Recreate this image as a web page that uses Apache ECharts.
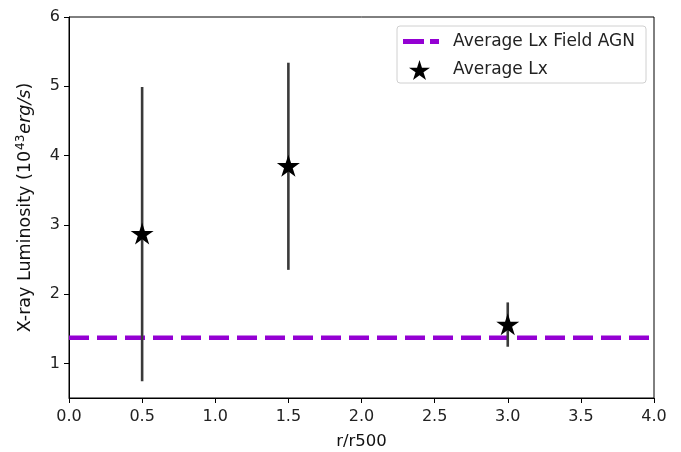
<!DOCTYPE html>
<html>
<head>
<meta charset="utf-8">
<script src="https://cdn.jsdelivr.net/npm/echarts@6/dist/echarts.min.js"></script>
<style>html,body{margin:0;padding:0;background:#fff;}#c{width:681px;height:452px;}</style>
</head>
<body>
<div id="c"></div>
<script>
// ---- data ----
const rValues = [0.5, 1.5, 3.0];
const avgLx = [2.86, 3.84, 1.55];
const errLow = [0.74, 2.35, 1.24];
const errHigh = [4.99, 5.34, 1.88];
const fieldAgnLx = 1.37;
const fieldRange = [0, 4];
const xTicks = [0, 0.5, 1, 1.5, 2, 2.5, 3, 3.5, 4];
const yTicks = [1, 2, 3, 4, 5, 6];
const lineName = 'Average Lx Field AGN';
const starName = 'Average Lx';

const STAR = 'path://M50 0 L61.17 34.63 L97.55 34.55 L68.07 55.87 L79.39 90.45 L50 69 L20.61 90.45 L31.93 55.87 L2.45 34.55 L38.83 34.63 Z';
const FONT = 'DejaVu Sans';

const chart = echarts.init(document.getElementById('c'), null, {renderer: 'canvas'});
const option = {
  animation: false,
  backgroundColor: '#fff',
  textStyle: {fontFamily: FONT},
  grid: {left: 69, right: 27, top: 17, bottom: 54, show: true, borderColor: '#000', borderWidth: 1,
    backgroundColor: 'transparent', containLabel: false, outerBoundsMode: 'none'},
  xAxis: {
    type: 'value', min: 0, max: 4, interval: 0.5,
    name: 'r/r500', nameLocation: 'middle', nameGap: 35,
    nameTextStyle: {fontSize: 16.5, color: '#111', fontFamily: FONT},
    axisLine: {show: true, onZero: false, lineStyle: {color: '#000', width: 1}},
    axisTick: {show: true, inside: false, length: 5, lineStyle: {color: '#000'}, customValues: xTicks},
    axisLabel: {fontSize: 16, color: '#222', margin: 11, fontFamily: FONT, customValues: xTicks,
      formatter: v => v.toFixed(1)},
    splitLine: {show: false}
  },
  yAxis: {
    type: 'value', min: 0.5, max: 6,
    name: '{a|X-ray Luminosity (10}{sup|43}{i|erg/s}{a|)}', nameLocation: 'middle', nameGap: 33,
    nameTextStyle: {fontSize: 17.5, color: '#111', fontFamily: FONT,
      rich: {
        a: {fontSize: 17.5, color: '#111', fontFamily: FONT},
        sup: {fontSize: 12, color: '#111', fontFamily: FONT, verticalAlign: 'bottom', padding: [0, 1, 9, 1]},
        i: {fontSize: 17.5, color: '#111', fontFamily: FONT, fontStyle: 'italic'}
      }},
    axisLine: {show: true, onZero: false, lineStyle: {color: '#000', width: 1}},
    axisTick: {show: true, inside: false, length: 5, lineStyle: {color: '#000'}, customValues: yTicks},
    axisLabel: {fontSize: 16, color: '#222', margin: 9, fontFamily: FONT, customValues: yTicks,
      formatter: v => String(v)},
    splitLine: {show: false}
  },
  graphic: [{
    type: 'rect', z: 1, silent: true,
    shape: {x: 397, y: 26, width: 249, height: 57, r: 3},
    style: {fill: 'rgba(255,255,255,0.8)', stroke: '#d0d0d0', lineWidth: 1}
  }],
  legend: [{
    data: [{name: lineName, icon: 'path://M0 0H21V5H0Z M27 0H36V5H27Z'}],
    left: 403, top: 33, padding: 0, itemWidth: 36, itemHeight: 5, z: 5,
    selectedMode: false,
    itemStyle: {color: '#9400d3', opacity: 1},
    textStyle: {fontSize: 17, color: '#222', fontFamily: FONT, padding: [0, 0, 0, 9]}
  }, {
    data: [{name: starName, icon: STAR}],
    left: 409, top: 60, padding: 0, itemWidth: 21, itemHeight: 20, z: 5,
    selectedMode: false,
    itemStyle: {color: '#000', opacity: 1},
    textStyle: {fontSize: 17, color: '#222', fontFamily: FONT, padding: [0, 0, 0, 18]}
  }],
  series: [{
    name: lineName, type: 'line', z: 2,
    data: fieldRange.map(x => [x, fieldAgnLx]),
    symbol: 'none',
    lineStyle: {color: '#9400d3', width: 4.5, type: [20, 8]},
    itemStyle: {color: '#9400d3'}
  }, {
    name: 'errors', type: 'custom', z: 3,
    data: rValues.map((x, i) => [x, errLow[i], errHigh[i]]),
    renderItem: function (params, api) {
      const p1 = api.coord([api.value(0), api.value(1)]);
      const p2 = api.coord([api.value(0), api.value(2)]);
      return {type: 'line', shape: {x1: p1[0], y1: p1[1], x2: p2[0], y2: p2[1]},
        style: {stroke: '#3a3a3a', lineWidth: 2.6}};
    }
  }, {
    name: starName, type: 'scatter', z: 4,
    data: rValues.map((x, i) => [x, avgLx[i]]),
    symbol: STAR, symbolSize: [23, 22], symbolOffset: [0, -1],
    itemStyle: {color: '#000', opacity: 1}
  }]
};
chart.setOption(option);
</script>
</body>
</html>
